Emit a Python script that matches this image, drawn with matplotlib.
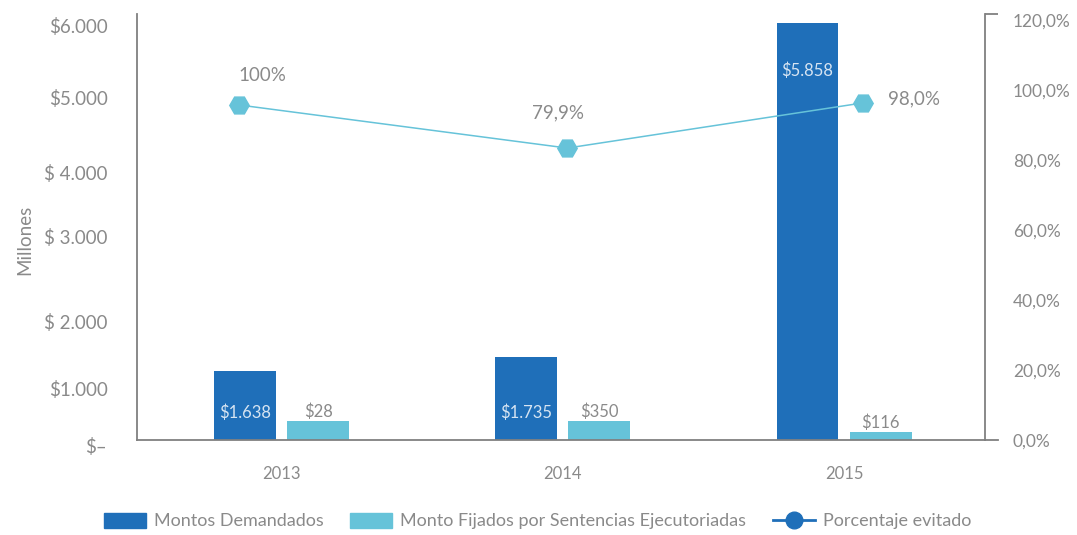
import matplotlib
matplotlib.use("Agg")
import matplotlib.pyplot as plt
from matplotlib.lines import Line2D
from matplotlib.patches import Patch
import numpy as np

plt.rcParams['font.family'] = ['Lato', 'DejaVu Sans']
plt.rcParams['font.weight'] = 'normal'

# ---- data ----
years = ["2013", "2014", "2015"]
demandados_height = [990, 1191, 5986]          # bar heights as drawn (left axis units)
fijados_height = [273, 273, 115]
demandados_labels = ["$1.638", "$1.735", "$5.858"]
fijados_labels = ["$28", "$350", "$116"]
porcentaje = [95.7, 83.4, 96.3]                 # right axis, %
porcentaje_labels = ["100%", "79,9%", "98,0%"]
left_tick_labels = ["$6.000", "$5.000", "$ 4.000", "$ 3.000", "$ 2.000", "$1.000"]
left_tick_pos = [5957, 4923, 3833, 2914, 1694, 746]
right_ticks = [0, 20, 40, 60, 80, 100, 120]
right_tick_labels = ["0,0%", "20,0%", "40,0%", "60,0%", "80,0%", "100,0%", "120,0%"]

# ---- styles / layout ----
DARK = "#1F6FB9"
LIGHT = "#66C3D9"
GRAY = "#8a8a8a"
SPINE = "#808080"
bar_w = 0.22
bar_off = 0.13
line_xoff = [-0.15, 0.016, 0.067]
dark_lab_off = [-42, -56, -48]
pct_lab_off = [(23, 30, "center"), (-9, 35, "center"), (25, 4, "left")]

W, H = 1077, 535
fig = plt.figure(figsize=(W / 100, H / 100), dpi=100)
ax = fig.add_axes([137 / W, 1 - 440 / H, (985 - 137) / W, (440 - 14) / H])
ax2 = ax.twinx()

x = np.arange(len(years))
b1 = ax.bar(x - bar_off, demandados_height, bar_w, color=DARK, zorder=2)
b2 = ax.bar(x + bar_off, fijados_height, bar_w, color=LIGHT, zorder=2)

for i, r in enumerate(b1):
    ax.annotate(demandados_labels[i], (r.get_x() + r.get_width() / 2, r.get_height()),
                xytext=(0, dark_lab_off[i]), textcoords="offset pixels",
                ha="center", va="center", color="#d6e4f2", fontsize=12)
for i, r in enumerate(b2):
    ax.annotate(fijados_labels[i], (r.get_x() + r.get_width() / 2, r.get_height()),
                xytext=(0, 1), textcoords="offset pixels",
                ha="center", va="bottom", color=GRAY, fontsize=12)

ax.set_xlim(-0.514, 2.501)
ax.set_ylim(0, 6115)
ax.set_xticks(x)
ax.set_xticklabels(years)
ax.set_yticks(left_tick_pos)
ax.set_yticklabels(left_tick_labels)
ax.tick_params(axis="x", length=0, pad=19, labelsize=12, labelcolor=GRAY)
ax.tick_params(axis="y", length=0, pad=21, labelsize=13.5, labelcolor=GRAY)
for lab in ax.get_yticklabels():
    lab.set_horizontalalignment("right")
ax.text(-0.035, -100, "$–", transform=ax.get_yaxis_transform(), ha="right", va="center",
        color=GRAY, fontsize=13.5, clip_on=False)

for s in ["top", "right"]:
    ax.spines[s].set_visible(False)
for s in ["left", "bottom"]:
    ax.spines[s].set_color(SPINE)
    ax.spines[s].set_linewidth(1.3)
ax.add_line(Line2D([1.0, 1.015], [0, 0], transform=ax.get_yaxis_transform(),
                   color=SPINE, lw=1.3, clip_on=False))

# line series
lx = x + np.array(line_xoff)
ax2.plot(lx, porcentaje, color=LIGHT, lw=1.1, marker="H", markersize=14, zorder=3)
for i in range(len(years)):
    dx, dy, ha = pct_lab_off[i]
    ax2.annotate(porcentaje_labels[i], (lx[i], porcentaje[i]), xytext=(dx, dy),
                 textcoords="offset pixels", ha=ha, va="center", color=GRAY, fontsize=13.5)
ax2.set_ylim(0, 121.7)
ax2.set_yticks(right_ticks)
ax2.set_yticklabels(right_tick_labels)
ax2.set_yticks([121.7], minor=True)
ax2.tick_params(axis="y", which="major", length=0, pad=20, labelsize=12.5, labelcolor=GRAY)
ax2.tick_params(axis="y", which="minor", length=9, width=1.3, color=SPINE, direction="out")
for s in ["top", "left", "bottom"]:
    ax2.spines[s].set_visible(False)
ax2.spines["right"].set_color(SPINE)
ax2.spines["right"].set_linewidth(1.3)

fig.text(25 / W, 1 - 240 / H, "Millones", rotation=90, ha="center", va="center",
         color=GRAY, fontsize=13.5)

handles = [Patch(color=DARK), Patch(color=LIGHT),
           Line2D([], [], color=DARK, lw=2, marker="o", markersize=12)]
labels = ["Montos Demandados", "Monto Fijados por Sentencias Ejecutoriadas", "Porcentaje evitado"]
fig.legend(handles, labels, loc="center left", bbox_to_anchor=(104 / W, 1 - 521 / H),
           ncol=3, frameon=False, fontsize=13, labelcolor=GRAY, handlelength=2.3,
           handleheight=0.9, handletextpad=0.45, columnspacing=1.5, borderpad=0,
           borderaxespad=0)

fig.savefig("out.png", dpi=100)
